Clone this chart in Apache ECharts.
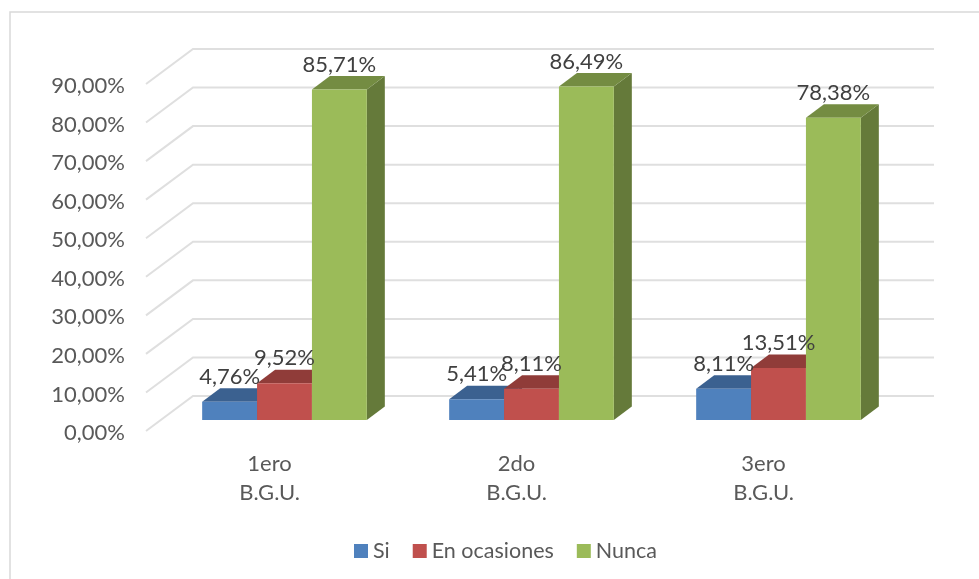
<!DOCTYPE html>
<html>
<head>
<meta charset="utf-8">
<title>Chart</title>
<style>
  html, body { margin: 0; padding: 0; background: #fff; }
  #box { width: 979px; height: 579px; }
</style>
<script src="https://cdn.jsdelivr.net/npm/echarts@6/dist/echarts.min.js"></script>
</head>
<body>
<div id="box"></div>
<script>
var categories = ['1ero\nB.G.U.', '2do\nB.G.U.', '3ero\nB.G.U.'];
var si = [4.76, 5.41, 8.11];
var enOcasiones = [9.52, 8.11, 13.51];
var nunca = [85.71, 86.49, 78.38];
var ticks = [0, 10, 20, 30, 40, 50, 60, 70, 80, 90];

var FONT = 'Lato, "Open Sans", sans-serif';
var chart = echarts.init(document.getElementById('box'));

// fake 3d: wall depth and bar depth, in pixels
var wallX = 47, wallY = 35;
var barShiftX = 15, barShiftY = 11;
var barX = 18, barY = 13.5;

function poly(points, color, z2) {
    return { type: 'polygon', z2: z2, shape: { points: points }, style: { fill: color } };
}

function wall(params, api) {
    var p = api.coord([0, api.value(0)]);
    var end = api.coord([categories.length - 1, api.value(0)]);
    var band = api.size([1, 0])[0];
    var left = p[0] - band / 2;
    var right = end[0] + band / 2 + wallX;
    return {
        type: 'polyline',
        shape: { points: [[left, p[1]], [left + wallX, p[1] - wallY], [right, p[1] - wallY]] },
        style: { fill: null, stroke: '#DFDFDF', lineWidth: 2 }
    };
}

function bar3d(index, colors) {
    return function (params, api) {
        var v = api.value(1);
        var top = api.coord([api.value(0), v]);
        var base = api.coord([api.value(0), 0]);
        var w = api.size([1, 0])[0] / 4.5;
        var x0 = top[0] + barShiftX + (index - 1.5) * w;
        var x1 = x0 + w;
        var y0 = top[1] - barShiftY;
        var y1 = base[1] - barShiftY;
        return {
            type: 'group',
            children: [
                poly([[x1, y0], [x1 + barX, y0 - barY], [x1 + barX, y1 - barY], [x1, y1]], colors[2], index),
                poly([[x0, y0], [x0 + barX, y0 - barY], [x1 + barX, y0 - barY], [x1, y0]], colors[1], index),
                poly([[x0, y0], [x1, y0], [x1, y1], [x0, y1]], colors[0], index),
                {
                    type: 'text',
                    z2: 100,
                    style: {
                        x: (x0 + x1) / 2,
                        y: y0 - 25,
                        text: v.toFixed(2).replace('.', ',') + '%',
                        align: 'center',
                        verticalAlign: 'middle',
                        fill: '#404040',
                        font: '22px ' + FONT
                    }
                }
            ]
        };
    };
}

function barSeries(name, values, index, colors) {
    return {
        name: name,
        type: 'custom',
        renderItem: bar3d(index, colors),
        clip: false,
        itemStyle: { color: colors[0] },
        encode: { x: 0, y: 1 },
        data: values.map(function (v, i) { return [i, v]; })
    };
}

var option = {
    backgroundColor: '#fff',
    animation: false,
    graphic: [{
        type: 'rect',
        silent: true,
        z: -1,
        shape: { x: 10, y: 12, width: 1000, height: 600 },
        style: { fill: null, stroke: '#D9D9D9', lineWidth: 1.5 }
    }],
    legend: {
        data: ['Si', 'En ocasiones', 'Nunca'],
        left: 349,
        top: 535,
        icon: 'rect',
        itemWidth: 14,
        itemHeight: 14,
        itemGap: 23,
        textStyle: { color: '#595959', fontSize: 21.5, fontFamily: FONT }
    },
    grid: { left: 146, right: 92, top: 84, bottom: 148 },
    xAxis: {
        type: 'category',
        data: categories,
        axisLine: { show: false },
        axisTick: { show: false },
        splitLine: { show: false },
        axisLabel: { color: '#595959', fontSize: 22, fontFamily: FONT, lineHeight: 29, margin: 18, interval: 0 }
    },
    yAxis: {
        type: 'value',
        min: 0,
        max: 90,
        interval: 10,
        axisLine: { show: false },
        axisTick: { show: false },
        splitLine: { show: false },
        axisLabel: {
            margin: 21,
            formatter: function (v) { return '{a|' + v.toFixed(2).replace('.', ',') + '%}'; },
            rich: {
                a: { color: '#595959', fontSize: 22, fontFamily: FONT, padding: [4, 0, 0, 0] }
            }
        }
    },
    series: [
        {
            name: 'paredes',
            type: 'custom',
            renderItem: wall,
            clip: false,
            silent: true,
            z: 1,
            encode: { y: 0 },
            data: ticks.map(function (t) { return [t]; })
        },
        barSeries('Si', si, 0, ['#4F81BD', '#3B6190', '#335580']),
        barSeries('En ocasiones', enOcasiones, 1, ['#C0504D', '#903C39', '#7D3432']),
        barSeries('Nunca', nunca, 2, ['#9BBB59', '#748C42', '#657A3A'])
    ]
};

chart.setOption(option);
</script>
</body>
</html>
